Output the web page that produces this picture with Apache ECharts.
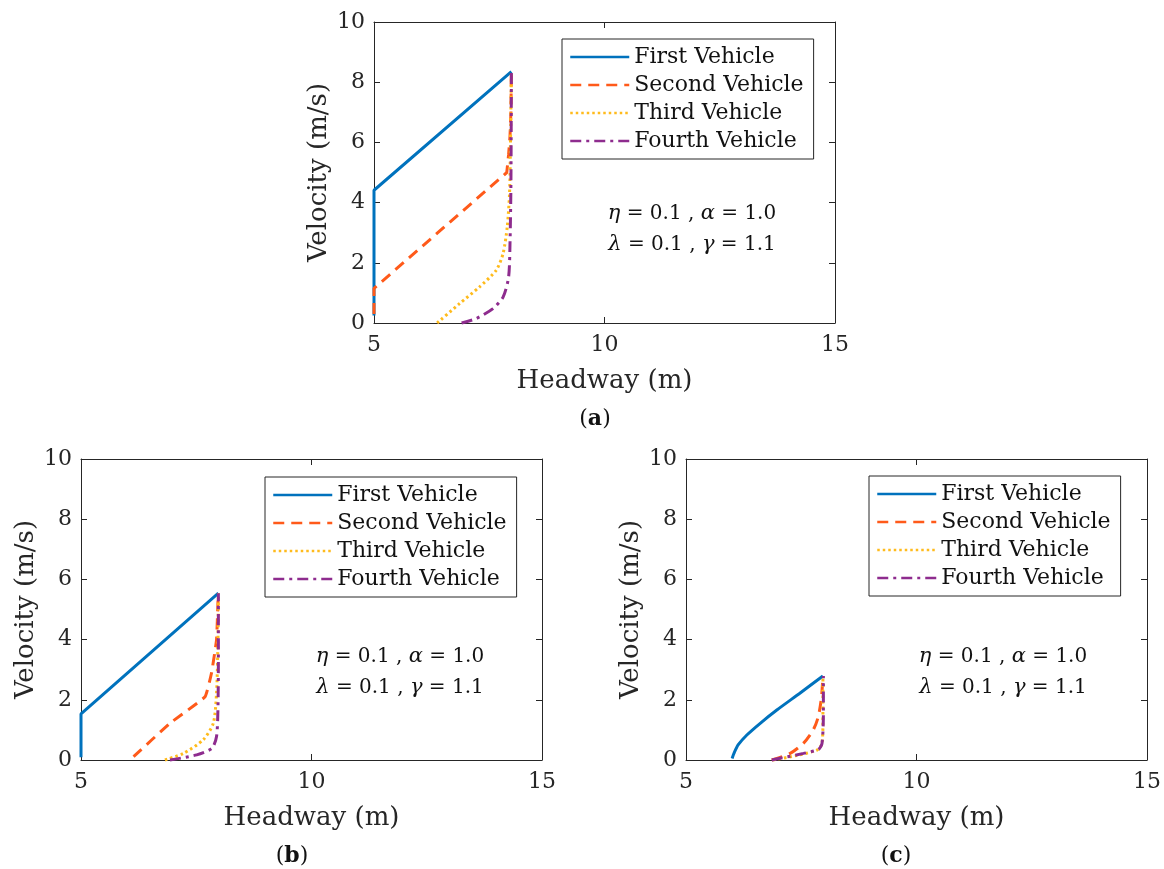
<!DOCTYPE html>
<html>
<head>
<meta charset="utf-8">
<script src="https://cdn.jsdelivr.net/npm/echarts@6/dist/echarts.min.js"></script>
<style>
  html, body { margin: 0; padding: 0; background: #fff; }
  #main { width: 1164px; height: 869px; }
</style>
</head>
<body>
<div id="main"></div>
<script>
  // legend names
  const vehicles = ['First Vehicle', 'Second Vehicle', 'Third Vehicle', 'Fourth Vehicle'];
  const xTicks = [5, 10, 15];
  const yTicks = [0, 2, 4, 6, 8, 10];

  // (a) headway / velocity pairs
  const aFirst = [[5, 0.25], [5, 4.41], [7.98, 8.35]];
  const aSecond = [[5, 0.3], [5, 1.15], [7.88, 5.0], [7.92, 5.6], [7.95, 6.2], [7.97, 7.0], [7.98, 8.35]];
  const aThird = [[6.37, 0], [6.86, 0.65], [7.29, 1.2], [7.65, 1.75], [7.8, 2.31], [7.89, 3.19], [7.94, 4.3], [7.96, 5.97], [7.98, 8.35]];
  const aFourth = [[6.9, 0], [7.22, 0.15], [7.58, 0.48], [7.8, 0.86], [7.92, 1.53], [7.95, 2.64], [7.97, 4.6], [7.98, 8.35]];

  // (b)
  const bFirst = [[5, 0.09], [5, 1.53], [7.98, 5.54]];
  const bSecond = [[6.14, 0.11], [6.93, 1.22], [7.69, 2.1], [7.83, 2.88], [7.94, 3.99], [7.97, 5.2], [7.98, 5.54]];
  const bThird = [[6.82, 0], [7.22, 0.22], [7.65, 0.67], [7.87, 1.22], [7.94, 2.22], [7.97, 3.88], [7.98, 5.54]];
  const bFourth = [[6.93, 0], [7.51, 0.17], [7.84, 0.39], [7.94, 0.78], [7.97, 1.66], [7.98, 3.32], [7.98, 5.54]];

  // (c)
  const cFirst = [[6.0, 0.05], [6.04, 0.22], [6.13, 0.5], [6.32, 0.83], [6.61, 1.22], [6.97, 1.66], [7.47, 2.22], [7.97, 2.79]];
  const cSecond = [[6.86, 0], [7.26, 0.22], [7.55, 0.56], [7.76, 1.0], [7.87, 1.44], [7.94, 2.1], [7.97, 2.79]];
  const cThird = [[6.89, 0], [7.4, 0.15], [7.84, 0.33], [7.95, 0.55], [7.97, 1.3], [7.97, 2.79]];
  const cFourth = [[6.86, 0], [7.55, 0.22], [7.87, 0.35], [7.95, 0.55], [7.98, 1.55], [7.98, 2.79]];

  const panels = [
    { tag: 'a', data: [aFirst, aSecond, aThird, aFourth], smooth: [false, false, 0.25, 0.25] },
    { tag: 'b', data: [bFirst, bSecond, bThird, bFourth], smooth: [false, 0.1, 0.25, 0.25] },
    { tag: 'c', data: [cFirst, cSecond, cThird, cFourth], smooth: [0.25, 0.25, 0.25, 0.25] },
  ];

  const FONT = 'DejaVu Serif';
  const INK = '#262626';
  const colors = ['#0072BD', '#FF5A1A', '#FFBB1C', '#8E2C8E'];
  const dashes = ['solid', [11, 7], [2.5, 3], [11, 5, 3, 5]];

  // pixel layout of the three axes boxes
  const boxes = [
    { left: 374, top: 22, width: 461, height: 301 },
    { left: 81, top: 459, width: 461, height: 301 },
    { left: 686, top: 459, width: 461, height: 301 },
  ];
  const legendPos = [
    { left: 562, top: 39 },
    { left: 265, top: 477 },
    { left: 869, top: 476 },
  ];
  const notePos = [
    { x: 692, y: 229 },
    { x: 400, y: 672 },
    { x: 1003, y: 672 },
  ];
  const tagPos = [
    { x: 595, y: 419 },
    { x: 292, y: 856 },
    { x: 896, y: 856 },
  ];

  const myChart = echarts.init(document.getElementById('main'));

  const grid = [];
  const xAxis = [];
  const yAxis = [];
  const series = [];
  const legend = [];
  const graphic = [];

  const tick = { show: true, inside: true, length: 6, lineStyle: { color: INK, width: 1 } };
  const line = { show: true, onZero: false, lineStyle: { color: INK, width: 1 } };

  panels.forEach((p, i) => {
    grid.push(Object.assign({ containLabel: false }, boxes[i]));
    // bottom + top x axes
    xAxis.push({
      gridIndex: i, type: 'value', position: 'bottom',
      min: xTicks[0], max: xTicks[xTicks.length - 1], interval: 5,
      axisLine: line, axisTick: tick, splitLine: { show: false },
      axisLabel: { color: INK, fontFamily: FONT, fontSize: 22, margin: 11 },
      name: 'Headway (m)', nameLocation: 'middle', nameGap: 45,
      nameTextStyle: { color: INK, fontFamily: FONT, fontSize: 26 },
    });
    xAxis.push({
      gridIndex: i, type: 'value', position: 'top',
      min: xTicks[0], max: xTicks[xTicks.length - 1], interval: 5,
      axisLine: line, axisTick: tick, axisLabel: { show: false }, splitLine: { show: false },
    });
    // left + right y axes
    yAxis.push({
      gridIndex: i, type: 'value', position: 'left',
      min: yTicks[0], max: yTicks[yTicks.length - 1], interval: 2,
      axisLine: line, axisTick: tick, splitLine: { show: false },
      axisLabel: { color: INK, fontFamily: FONT, fontSize: 22, margin: 9 },
      name: 'Velocity (m/s)', nameLocation: 'middle', nameGap: 42,
      nameTextStyle: { color: INK, fontFamily: FONT, fontSize: 26 },
    });
    yAxis.push({
      gridIndex: i, type: 'value', position: 'right',
      min: yTicks[0], max: yTicks[yTicks.length - 1], interval: 2,
      axisLine: line, axisTick: tick, axisLabel: { show: false }, splitLine: { show: false },
    });

    p.data.forEach((d, k) => {
      series.push({
        name: vehicles[k],
        type: 'line',
        xAxisIndex: i * 2,
        yAxisIndex: i * 2,
        data: d,
        symbol: 'none',
        clip: false,
        smooth: p.smooth[k],
        lineStyle: { color: colors[k], width: 3, type: dashes[k] },
        itemStyle: { color: colors[k] },
        emphasis: { disabled: true },
        animation: false,
        z: 2 + k,
      });
    });

    legend.push({
      data: vehicles,
      orient: 'vertical',
      left: legendPos[i].left,
      top: legendPos[i].top,
      padding: [4, 10, 4, 7],
      itemGap: 0,
      itemWidth: 59,
      itemHeight: 14,
      borderColor: INK,
      borderWidth: 1,
      backgroundColor: '#fff',
      selectedMode: false,
      itemStyle: { opacity: 0 },
      lineStyle: { width: 2.5 },
      textStyle: { color: '#111', fontFamily: FONT, fontSize: 22, lineHeight: 28 },
    });

    // parameter note inside each panel
    graphic.push({
      type: 'text', x: notePos[i].x, y: notePos[i].y, z: 10,
      style: {
        text: '{g|η} = 0.1 , {g|α} = 1.0\n{g|λ} = 0.1 , {g|γ} = 1.1',
        align: 'center', verticalAlign: 'middle',
        fontFamily: FONT, fontSize: 20, lineHeight: 31, fill: '#111',
        rich: { g: { fontStyle: 'italic', fontFamily: FONT, fontSize: 21 } },
      },
    });
    // sub-figure label
    graphic.push({
      type: 'text',
      x: tagPos[i].x,
      y: tagPos[i].y,
      style: {
        text: '({b|' + p.tag + '})',
        align: 'center', verticalAlign: 'middle',
        fontFamily: FONT, fontSize: 22, fill: '#111',
        rich: { b: { fontWeight: 'bold', fontFamily: FONT, fontSize: 22 } },
      },
    });
  });

  myChart.setOption({
    backgroundColor: '#fff',
    animation: false,
    grid,
    xAxis,
    yAxis,
    legend,
    series,
    graphic,
  });
</script>
</body>
</html>
